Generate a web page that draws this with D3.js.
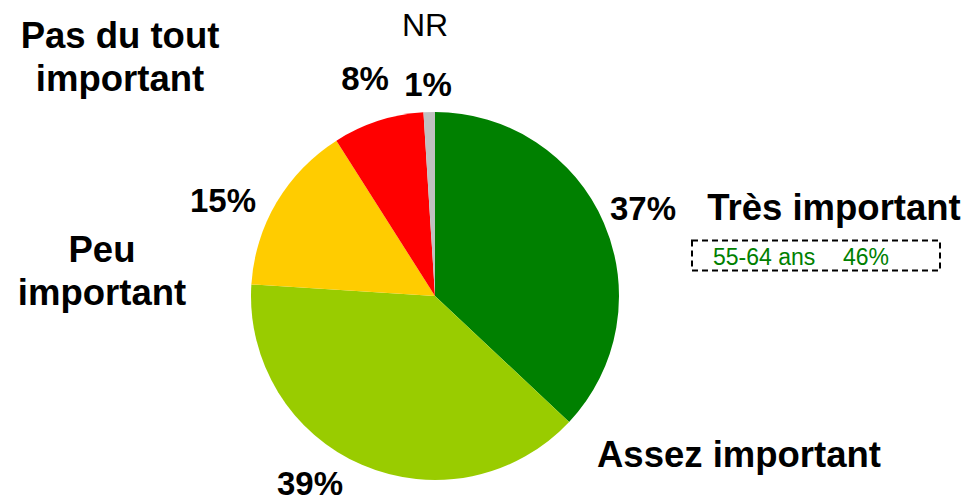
<!DOCTYPE html>
<html><head><meta charset="utf-8">
<script src="https://cdn.jsdelivr.net/npm/d3@7"></script>
<style>body{margin:0;background:#fff}svg{display:block}text{font-family:"Liberation Sans",Arial,sans-serif}</style>
</head><body>
<script>
const categories = ["Très important","Assez important","Peu important","Pas du tout important","NR"];
const values = [37,39,15,8,1];
const colors = ["#008000","#99cc00","#ffcc00","#ff0000","#c0c0c0"];
const pctLabels = ["37%","39%","15%","8%","1%"];
const noteLabels = ["55-64 ans","46%"];

const W=968,H=502, cx=435, cy=296, R=184;
const svg=d3.select("body").append("svg").attr("width",W).attr("height",H);
const data = categories.map((c,i)=>({cat:c,value:values[i],color:colors[i],pct:pctLabels[i]}));
const pie=d3.pie().value(d=>d.value).sort(null);
const arc=d3.arc().innerRadius(0).outerRadius(R);
const g=svg.append("g").attr("transform",`translate(${cx},${cy})`);
g.selectAll("path").data(pie(data)).join("path").attr("d",arc).attr("fill",d=>d.data.color);

// percentage labels
const pctPos=[[643,220],[310,495],[223,212],[365,90],[428,96]];
pctLabels.forEach((t,i)=>{
  svg.append("text").attr("x",pctPos[i][0]).attr("y",pctPos[i][1]).attr("text-anchor","middle")
    .attr("font-size",33).attr("font-weight","bold").attr("fill","#000").text(t);
});
// category labels
const catLines=[["Très important"],["Assez important"],["Peu","important"],["Pas du tout","important"],["NR"]];
const catPos=[[834,220],[739,467],[102,262],[120,48],[425,36]];
catLines.forEach((lines,i)=>{
  const tx=svg.append("text").attr("text-anchor","middle")
    .attr("font-size",i===4?32:36.5).attr("font-weight",i===4?"normal":"bold").attr("fill","#000");
  lines.forEach((l,j)=>tx.append("tspan").attr("x",catPos[i][0]).attr("y",catPos[i][1]+j*43).text(l));
});
// note box
svg.append("rect").attr("x",692).attr("y",240.5).attr("width",248).attr("height",30)
  .attr("fill","none").attr("stroke","#000").attr("stroke-width",2).attr("stroke-dasharray","6,4");
const noteX=[713,843];
noteLabels.forEach((t,i)=>{
  svg.append("text").attr("x",noteX[i]).attr("y",265).attr("font-size",23).attr("fill","#008000").text(t);
});
</script>
</body></html>
